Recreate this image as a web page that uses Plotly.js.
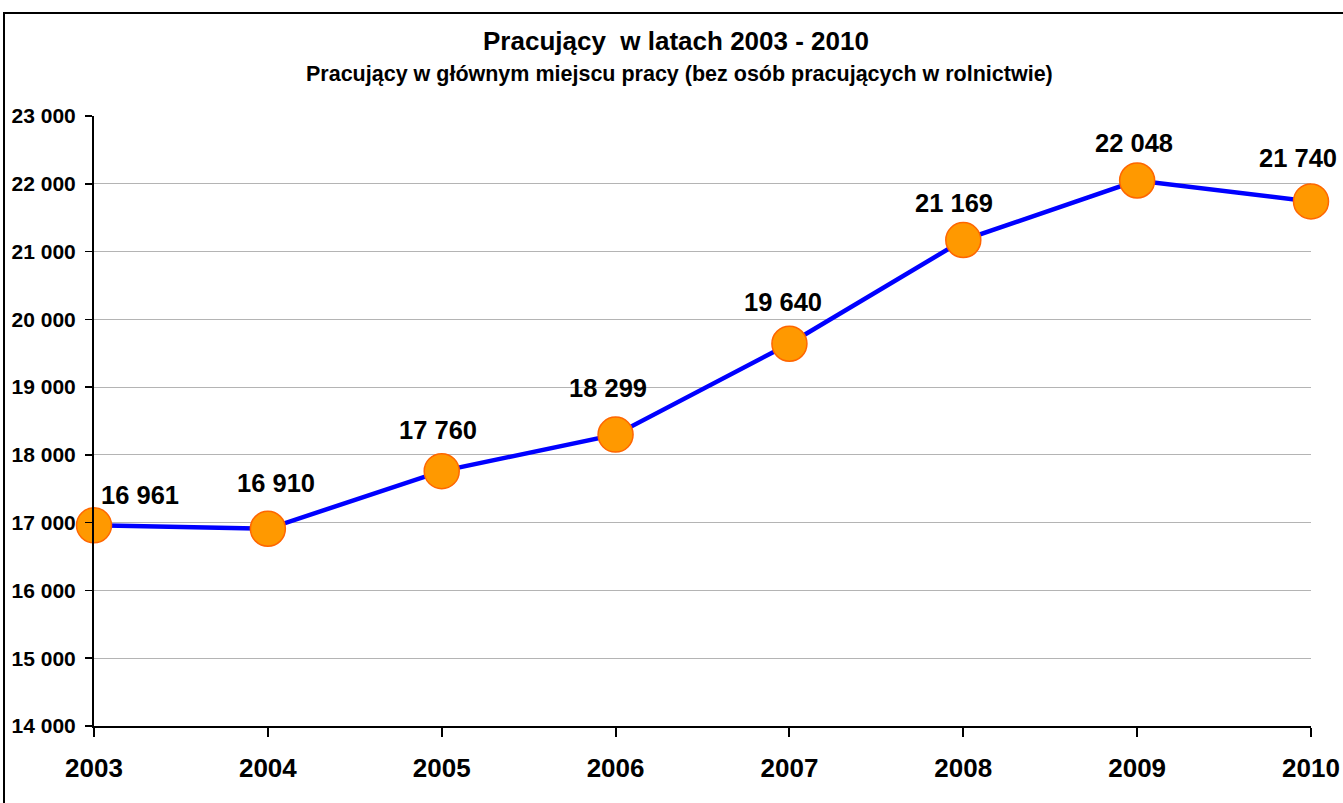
<!DOCTYPE html>
<html>
<head>
<meta charset="utf-8">
<script src="https://cdn.plot.ly/plotly-3.0.1.min.js"></script>
<style>
  html, body { margin: 0; padding: 0; background: #fff; overflow: hidden; }
  #frame { position: absolute; left: 3px; top: 12px; width: 1400px; height: 900px;
           border-left: 2px solid #000; border-top: 2px solid #000; pointer-events: none; z-index: 5; }
  #chart { position: absolute; left: 0; top: 0; width: 1343px; height: 803px; }
</style>
</head>
<body>
<div id="chart"></div>
<div id="frame"></div>
<script>
const years = [2003, 2004, 2005, 2006, 2007, 2008, 2009, 2010];
const employed = [16961, 16910, 17760, 18299, 19640, 21169, 22048, 21740];
const yTicks = [14000, 15000, 16000, 17000, 18000, 19000, 20000, 21000, 22000, 23000];
const titleText = 'Pracujący\u00a0 w latach 2003 - 2010';
const subtitleText = 'Pracujący w głównym miejscu pracy (bez osób pracujących w rolnictwie)';

// label offsets (pixels) — styling only
const labelShiftX = [46, 8, -4, -8, -6, -9, -3, -13];
const labelShiftY = [30, 46, 41, 47, 42, 37, 38, 43];

function fmt(n) { return String(n).replace(/\B(?=(\d{3})+(?!\d))/g, ' '); }

const FONT = 'Liberation Sans, Arial, sans-serif';

const trace = {
  x: years, y: employed, type: 'scatter', mode: 'lines+markers',
  line: { color: '#0000FF', width: 4.5 },
  marker: { size: 35, color: '#FF9900', line: { color: '#FF6600', width: 1.5 } },
  cliponaxis: false, hoverinfo: 'x+y'
};

const annotations = years.map((yr, i) => ({
  x: yr, y: employed[i], xref: 'x', yref: 'y',
  text: fmt(employed[i]), showarrow: false,
  xshift: labelShiftX[i], yshift: labelShiftY[i],
  font: { family: FONT, size: 25.5, color: '#000', weight: 'bold' }
}));

const plotL = 94, plotR = 1311, plotT = 116, plotB = 726;
const pw = plotR - plotL, ph = plotB - plotT;
annotations.push({
  xref: 'paper', yref: 'paper', x: (676 - plotL) / pw, y: (plotB - 41) / ph,
  text: titleText, showarrow: false, xanchor: 'center', yanchor: 'middle',
  font: { family: FONT, size: 26, color: '#000', weight: 'bold' }
});
annotations.push({
  xref: 'paper', yref: 'paper', x: (679 - plotL) / pw, y: (plotB - 74) / ph,
  text: subtitleText, showarrow: false, xanchor: 'center', yanchor: 'middle',
  font: { family: FONT, size: 21.5, color: '#000', weight: 'bold' }
});

const layout = {
  width: 1343, height: 803,
  margin: { l: plotL, r: 1343 - plotR, t: plotT, b: 803 - plotB, pad: 0 },
  paper_bgcolor: '#fff', plot_bgcolor: '#fff',
  separators: ', ',
  showlegend: false,
  xaxis: {
    range: [years[0], years[years.length - 1]], tickvals: years, ticktext: years.map(String),
    showgrid: false, zeroline: false, showline: true, linecolor: '#000', linewidth: 2,
    ticks: 'outside', ticklen: 9, tickwidth: 2, tickcolor: '#000',
    tickfont: { family: FONT, size: 26, color: '#000', weight: 'bold' },
    ticklabelstandoff: 9
  },
  yaxis: {
    range: [yTicks[0], yTicks[yTicks.length - 1]], tickvals: yTicks, tickformat: ',d',
    showgrid: true, gridcolor: '#b4b4b4', gridwidth: 1, zeroline: false,
    showline: true, linecolor: '#000', linewidth: 2,
    ticks: 'outside', ticklen: 7, tickwidth: 1.5, tickcolor: '#000',
    tickfont: { family: FONT, size: 21, color: '#000', weight: 'bold' },
    ticklabelstandoff: 5
  },
  annotations: annotations
};

Plotly.newPlot('chart', [trace], layout, { displayModeBar: false, staticPlot: true });
</script>
</body>
</html>
